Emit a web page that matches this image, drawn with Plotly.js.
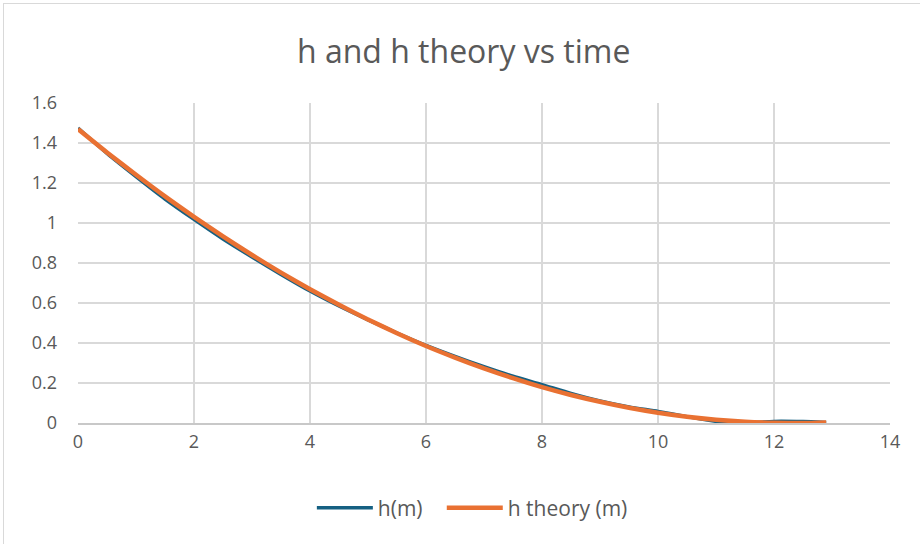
<!DOCTYPE html>
<html>
<head>
<meta charset="utf-8">
<script src="https://cdn.plot.ly/plotly-3.0.1.min.js"></script>
<style>
  html, body { margin: 0; padding: 0; background: #fff; overflow: hidden; }
  #chart { position: absolute; left: 0; top: 0; width: 920px; height: 544px; }
  #frame { position: absolute; left: 3px; top: 3px; width: 940px; height: 560px;
           border: 1px solid #d9d9d9; pointer-events: none; box-sizing: border-box; }
</style>
</head>
<body>
<div id="chart"></div>
<div id="frame"></div>
<script>
// Measured height h(m) vs time (s)
const tMeasured = [0, 0.5, 1.0, 1.5, 2.0, 2.5, 3.0, 3.5, 4.0, 4.5, 5.0, 5.5, 6.0, 6.5, 7.0, 7.5, 8.0, 8.5, 9.0, 9.5, 10.0, 10.5, 11.0, 11.25, 11.5, 12.0, 12.5, 12.9];
const hMeasured = [1.475, 1.348, 1.232, 1.120, 1.018, 0.920, 0.830, 0.743, 0.660, 0.585, 0.516, 0.450, 0.388, 0.333, 0.282, 0.234, 0.192, 0.148, 0.110, 0.080, 0.058, 0.032, 0.008, -0.003, 0.000, 0.008, 0.007, 0.003];

// Theoretical height h theory (m) vs time (s)
const tTheory = [0, 0.5, 1.0, 1.5, 2.0, 2.5, 3.0, 3.5, 4.0, 4.5, 5.0, 5.5, 6.0, 6.5, 7.0, 7.5, 8.0, 8.5, 9.0, 9.5, 10.0, 10.5, 11.0, 11.5, 12.0, 12.5, 12.9];
const hTheory = [1.470, 1.353, 1.241, 1.133, 1.031, 0.933, 0.840, 0.752, 0.669, 0.591, 0.518, 0.449, 0.385, 0.327, 0.273, 0.224, 0.179, 0.140, 0.106, 0.076, 0.051, 0.031, 0.016, 0.006, 0.001, 0.000, 0.003];

const seriesNames = ["h(m)", "h theory (m)"];
const chartTitle = "h and h theory vs time";
const xTicks = [0, 2, 4, 6, 8, 10, 12, 14];
const yTicks = [0, 0.2, 0.4, 0.6, 0.8, 1, 1.2, 1.4, 1.6];

const textColor = "#595959";
const fontFamily = "'Open Sans', sans-serif";

const traces = [
  { x: tMeasured, y: hMeasured, name: seriesNames[0], type: "scatter", mode: "lines",
    legend: "legend",
    line: { color: "#156082", width: 3.5, shape: "spline", smoothing: 0.6 } },
  { x: tTheory, y: hTheory, name: seriesNames[1], type: "scatter", mode: "lines",
    legend: "legend2",
    line: { color: "#E97132", width: 4.5, shape: "spline", smoothing: 0.6 } }
];

const legendStyle = { orientation: "h", xanchor: "left", y: -0.266, yanchor: "middle",
  font: { size: 21, color: textColor }, itemwidth: 56, bgcolor: "rgba(0,0,0,0)" };

const layout = {
  width: 920, height: 544,
  margin: { l: 78, r: 30, t: 103, b: 121, pad: 0 },
  paper_bgcolor: "#fff", plot_bgcolor: "#fff",
  font: { family: fontFamily, color: textColor, size: 18 },
  title: { text: chartTitle, x: 0.504, xanchor: "center", y: 0.905, yanchor: "middle",
           font: { family: fontFamily, size: 32, color: textColor } },
  xaxis: {
    range: [0, 14], tickvals: xTicks, ticktext: xTicks.map(String),
    showgrid: true, gridcolor: "#d9d9d9", gridwidth: 1.5,
    showline: true, linecolor: "#c8c8c8", linewidth: 1.5,
    zeroline: false, ticks: "", ticklen: 0, ticklabelstandoff: 2,
    tickfont: { size: 18, color: textColor },
    fixedrange: true
  },
  yaxis: {
    range: [0, 1.6], tickvals: yTicks, ticktext: yTicks.map(String),
    showgrid: true, gridcolor: "#d9d9d9", gridwidth: 1.5,
    showline: false, zeroline: false, ticks: "", ticklen: 0, ticklabelstandoff: 20,
    tickfont: { size: 18, color: textColor }, fixedrange: true
  },
  showlegend: true,
  legend: Object.assign({}, legendStyle, { x: 0.288 }),
  legend2: Object.assign({}, legendStyle, { x: 0.448 })
};

Plotly.newPlot("chart", traces, layout, { displayModeBar: false, staticPlot: true });
</script>
</body>
</html>
